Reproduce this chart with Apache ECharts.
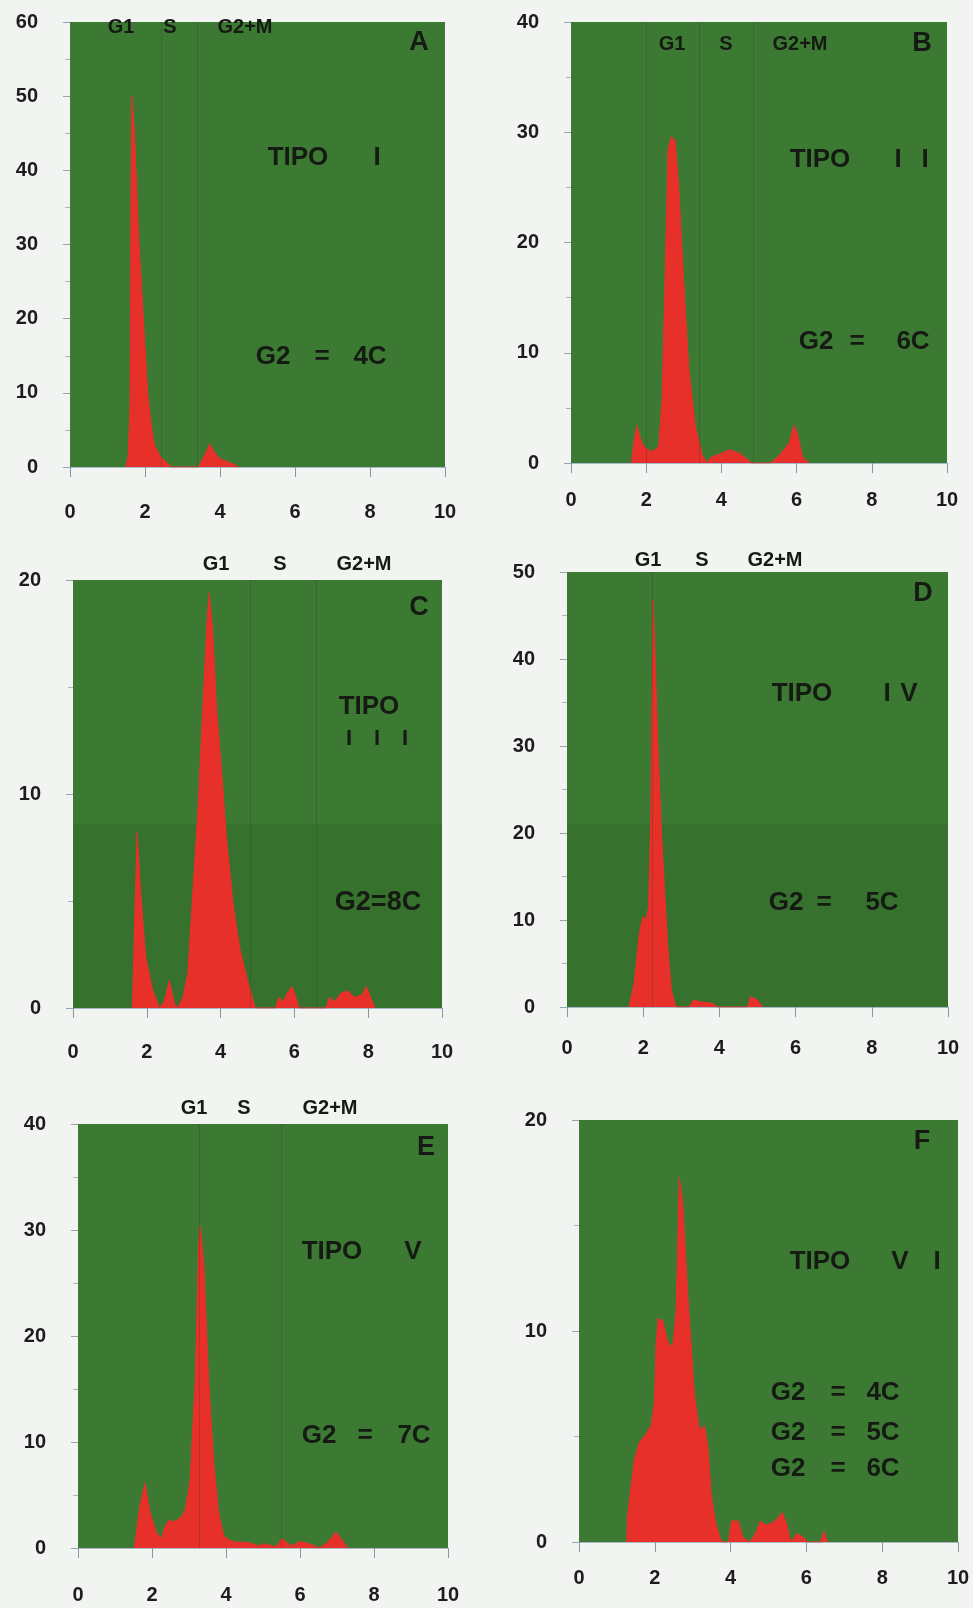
<!DOCTYPE html>
<html>
<head>
<meta charset="utf-8">
<script src="https://cdn.jsdelivr.net/npm/echarts/dist/echarts.min.js"></script>
<style>
  html, body { margin: 0; padding: 0; background: #f2f4f1; }
  #main { width: 973px; height: 1608px; }
</style>
</head>
<body>
<div id="main"></div>
<script>
// histogramas [DNA (C), % celulas]
const histA = [[1.49,0],[1.55,1.5],[1.6,8],[1.63,40],[1.65,50],[1.72,45],[1.83,31],[1.98,18],[2.07,10],[2.16,6],[2.25,3],[2.4,1.5],[2.55,0.7],[2.7,0],
  [3.42,0],[3.55,1.2],[3.73,3.1],[3.85,2],[4.0,1.1],[4.3,0.5],[4.5,0]];
const histB = [[1.61,0],[1.68,2],[1.75,3.4],[1.85,2.2],[1.93,1.5],[2.15,1.0],[2.33,1.5],[2.42,5.7],[2.51,17.8],[2.58,28.4],[2.67,29.6],[2.77,29.2],[2.86,25.3],[3.0,16.3],[3.13,8.7],[3.31,3.3],[3.49,0.7],[3.62,0],
  [3.71,0.5],[4.02,0.9],[4.2,1.2],[4.47,0.9],[4.74,0.2],[4.8,0],[5.31,0],[5.54,0.7],[5.8,1.8],[5.93,3.4],[6.02,2.7],[6.16,0.5],[6.33,0]];
const histC = [[1.61,0],[1.68,4.7],[1.74,8.2],[1.83,5.5],[1.97,2.4],[2.15,0.9],[2.34,0],[2.47,0.3],[2.61,1.3],[2.75,0.2],[2.84,0],[2.98,0.5],[3.11,1.6],[3.25,5.5],[3.39,9.4],[3.52,14.1],[3.63,18],[3.69,19.4],[3.78,17.8],[3.89,14],[4.03,11],[4.16,7.9],[4.35,4.7],[4.53,2.7],[4.76,1.1],[4.94,0],
  [5.49,0],[5.58,0.5],[5.71,0.3],[5.8,0.7],[5.94,1.0],[6.08,0.3],[6.12,0],[6.86,0],[6.95,0.5],[7.09,0.3],[7.27,0.7],[7.45,0.8],[7.63,0.5],[7.82,0.6],[7.95,1.0],[8.09,0.4],[8.18,0]];
const histD = [[1.63,0],[1.76,2.7],[1.9,8.5],[1.99,10.4],[2.07,10],[2.14,11.5],[2.2,22],[2.26,46.8],[2.3,42],[2.38,30.7],[2.47,21],[2.56,13.5],[2.65,6.6],[2.74,2],[2.83,0.4],[2.88,0],
  [3.2,0],[3.32,0.8],[3.49,0.6],[3.84,0.4],[3.93,0],[4.74,0],[4.82,1.2],[5.0,0.8],[5.13,0]];
const histE = [[1.52,0],[1.67,3.9],[1.81,6.1],[1.95,3.3],[2.13,1.4],[2.26,0.9],[2.35,2.0],[2.45,2.6],[2.63,2.5],[2.81,3.0],[2.9,3.6],[3.03,6.4],[3.17,15.9],[3.26,28.5],[3.3,30.4],[3.4,26.9],[3.53,15.9],[3.67,8.0],[3.8,3.3],[3.94,1.1],
  [4.17,0.6],[4.62,0.5],[4.89,0.2],[5.07,0.4],[5.34,0.1],[5.52,0.9],[5.61,0.6],[5.75,0.2],[6.02,0.6],[6.33,0.3],[6.52,0],[6.74,0.5],[6.97,1.5],[7.15,0.7],[7.29,0]];
const histF = [[1.26,0],[1.28,1.2],[1.37,2.6],[1.46,3.9],[1.59,4.7],[1.72,5.0],[1.9,5.5],[1.99,6.6],[2.03,9.3],[2.09,10.6],[2.21,10.5],[2.34,9.5],[2.47,9.2],[2.56,10.9],[2.65,17.3],[2.74,16.0],[2.87,11.7],[3.05,6.9],[3.18,5.3],[3.31,5.5],[3.4,4.5],[3.49,2.2],[3.62,0.8],[3.76,0],
  [3.94,0],[4.03,1.0],[4.2,1.0],[4.33,0.2],[4.51,0],[4.65,0.4],[4.79,1.0],[4.92,0.8],[5.1,0.9],[5.23,1.1],[5.36,1.4],[5.49,0.8],[5.58,0],[5.75,0.4],[5.93,0.2],[6.02,0],[6.37,0],[6.46,0.5],[6.55,0]];

const yMax = [60, 40, 20, 50, 40, 20];
const yStep = 10;
const xMin = 0, xMax = 10, xStep = 2;
// limites de fase (lineas oscuras tenues)
const gates = [[2.43, 3.4], [2.0, 3.4, 4.85], [4.8, 6.6], [2.25], [3.28, 5.5], []];
// banda mas oscura del escaneo (valor y hasta donde llega)
const darkBand = [0, 0, 8.6, 21, 0, 0];

const GREEN = '#3c7a33';
const RED = '#e8302a';
const INK = '#151a13';
const FONT = '"Liberation Sans", Arial, sans-serif';

const hists = [histA, histB, histC, histD, histE, histF];
const grids = [
  {left: 70, top: 22, width: 375, height: 445},
  {left: 571, top: 22, width: 376, height: 441},
  {left: 73, top: 580, width: 369, height: 428},
  {left: 567, top: 572, width: 381, height: 435},
  {left: 78, top: 1124, width: 370, height: 424},
  {left: 579, top: 1120, width: 379, height: 422}
];
const xLabelMargin = [35, 27, 34, 31, 37, 26];

// textos: [x, y, texto, tamano]
const notes = [
  [121, 27, 'G1', 20], [170, 27, 'S', 20], [245, 27, 'G2+M', 20],
  [419, 43, 'A', 27], [298, 158, 'TIPO', 26], [377, 158, 'I', 26],
  [273, 357, 'G2', 26], [322, 357, '=', 26], [370, 357, '4C', 26],

  [672, 44, 'G1', 20], [726, 44, 'S', 20], [800, 44, 'G2+M', 20],
  [922, 44, 'B', 27], [820, 160, 'TIPO', 26], [898, 160, 'I', 26], [925, 160, 'I', 26],
  [816, 342, 'G2', 26], [857, 342, '=', 26], [913, 342, '6C', 26],

  [216, 564, 'G1', 20], [280, 564, 'S', 20], [364, 564, 'G2+M', 20],
  [419, 608, 'C', 27], [369, 707, 'TIPO', 26],
  [349, 739, 'I', 22], [377, 739, 'I', 22], [405, 739, 'I', 22],
  [378, 903, 'G2=8C', 27],

  [648, 560, 'G1', 20], [702, 560, 'S', 20], [775, 560, 'G2+M', 20],
  [923, 594, 'D', 27], [802, 694, 'TIPO', 26], [887, 694, 'I', 26], [909, 694, 'V', 26],
  [786, 903, 'G2', 26], [824, 903, '=', 26], [882, 903, '5C', 26],

  [194, 1108, 'G1', 20], [244, 1108, 'S', 20], [330, 1108, 'G2+M', 20],
  [426, 1148, 'E', 27], [332, 1252, 'TIPO', 26], [413, 1252, 'V', 26],
  [319, 1436, 'G2', 26], [365, 1436, '=', 26], [414, 1436, '7C', 26],

  [922, 1142, 'F', 27], [820, 1262, 'TIPO', 26], [900, 1262, 'V', 26], [937, 1262, 'I', 26],
  [788, 1393, 'G2', 26], [838, 1393, '=', 26], [883, 1393, '4C', 26],
  [788, 1433, 'G2', 26], [838, 1433, '=', 26], [883, 1433, '5C', 26],
  [788, 1469, 'G2', 26], [838, 1469, '=', 26], [883, 1469, '6C', 26]
];

const chart = echarts.init(document.getElementById('main'), null, {renderer: 'canvas'});

const option = {
  backgroundColor: '#f2f4f1',
  animation: false,
  grid: grids.map(g => Object.assign({show: true, backgroundColor: GREEN, borderWidth: 0}, g)),
  xAxis: grids.map((g, i) => ({
    type: 'value',
    gridIndex: i,
    min: xMin,
    max: xMax,
    interval: xStep,
    axisLine: {show: true, lineStyle: {color: '#a9b8c6', width: 1}},
    axisTick: {show: true, length: 10, lineStyle: {color: '#8797a6', width: 1}},
    axisLabel: {margin: xLabelMargin[i], color: '#1c1c1c', fontSize: 20, fontWeight: 'bold', fontFamily: FONT},
    splitLine: {show: false}
  })),
  yAxis: grids.map((g, i) => ({
    type: 'value',
    gridIndex: i,
    min: 0,
    max: yMax[i],
    interval: yStep,
    axisLine: {show: false},
    axisTick: {show: true, length: 7, lineStyle: {color: '#93a5b6', width: 1}},
    minorTick: {show: true, splitNumber: 2, length: 5, lineStyle: {color: '#a3b3c2', width: 1}},
    axisLabel: {margin: 32, color: '#1c1c1c', fontSize: 20, fontWeight: 'bold', fontFamily: FONT},
    splitLine: {show: false}
  })),
  series: hists.map((h, i) => ({
    type: 'line',
    xAxisIndex: i,
    yAxisIndex: i,
    data: h,
    symbol: 'none',
    showSymbol: false,
    lineStyle: {color: RED, width: 1},
    areaStyle: {color: RED, opacity: 1},
    markLine: {
      silent: true,
      symbol: 'none',
      label: {show: false},
      lineStyle: {color: 'rgba(20,48,18,0.2)', width: 1, type: 'solid'},
      data: gates[i].map(v => ({xAxis: v}))
    },
    markArea: {
      silent: true,
      itemStyle: {color: 'rgba(0,35,0,0.09)'},
      data: darkBand[i] > 0 ? [[{yAxis: 0}, {yAxis: darkBand[i]}]] : []
    }
  })),
  graphic: notes.map(n => ({
    type: 'text',
    x: n[0],
    y: n[1],
    z: 100,
    style: {
      text: n[2],
      font: 'bold ' + n[3] + 'px ' + FONT,
      fill: INK,
      align: 'center',
      verticalAlign: 'middle',
      textAlign: 'center',
      textVerticalAlign: 'middle'
    }
  }))
};

chart.setOption(option);
</script>
</body>
</html>
